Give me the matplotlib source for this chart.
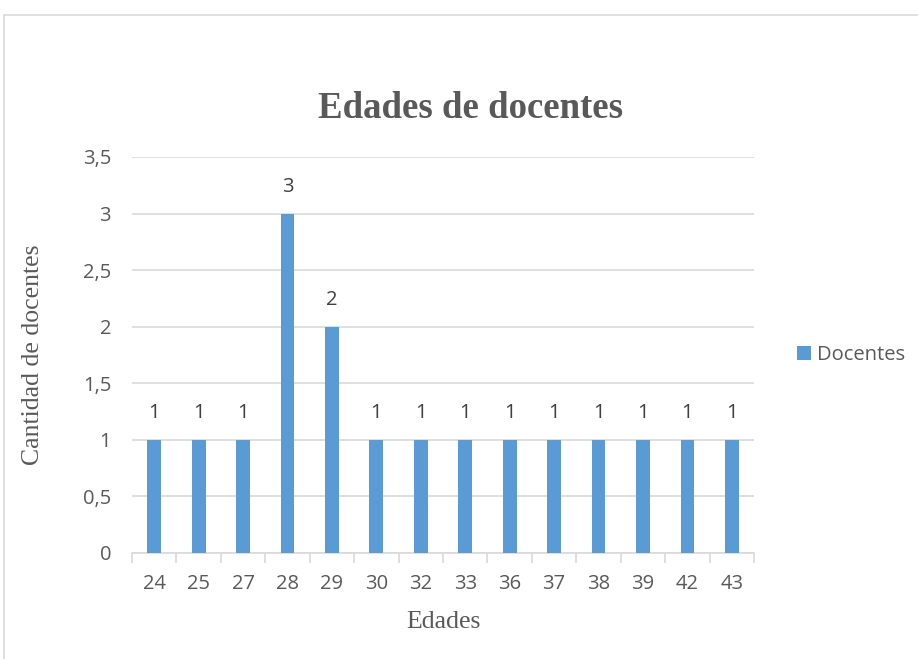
import numpy as np
import matplotlib.pyplot as plt
from matplotlib.patches import Rectangle

edades = ['24', '25', '27', '28', '29', '30', '32', '33', '36', '37', '38', '39', '42', '43']
docentes = [1, 1, 1, 3, 2, 1, 1, 1, 1, 1, 1, 1, 1, 1]

azul = '#5B9BD5'
gris = '#595959'

fig = plt.figure(figsize=(9.18, 6.59), dpi=100)
fig.patches.append(Rectangle((4 / 918, -0.1), 1.1, 1 - 15 / 659 + 0.1,
                             transform=fig.transFigure, fill=False,
                             edgecolor='#D9D9D9', linewidth=1.2))

ax = fig.add_axes([0.1438, 0.1609, 0.6776, 0.6009])
x = np.arange(len(edades))
ax.bar(x, docentes, width=0.31, color=azul, zorder=3, label='Docentes')

for xi, v in zip(x, docentes):
    ax.annotate(str(v), (xi, v), xytext=(0, 19), textcoords='offset points',
                ha='center', va='center', fontsize=14.5, color='#404040',
                family='Open Sans')

ax.set_xlim(-0.5, len(edades) - 0.5)
ax.set_ylim(0, 3.5)
ax.set_yticks(np.arange(0, 3.51, 0.5))
ax.set_yticklabels(['0', '0,5', '1', '1,5', '2', '2,5', '3', '3,5'])
ax.yaxis.grid(True, color='#D9D9D9', linewidth=1.2, zorder=0)

ax.set_xticks(x)
ax.set_xticklabels(edades)
ax.set_xticks(np.arange(-0.5, len(edades)), minor=True)
ax.tick_params(axis='x', which='major', length=0, pad=15)
ax.tick_params(axis='x', which='minor', length=7, color='#D9D9D9', width=1.2)
ax.tick_params(axis='y', length=0, pad=15)
for lab in ax.get_xticklabels() + ax.get_yticklabels():
    lab.set_family('Open Sans')
    lab.set_fontsize(14.5)
    lab.set_color(gris)

for s in ['top', 'right', 'left']:
    ax.spines[s].set_visible(False)
ax.spines['bottom'].set_color('#D9D9D9')
ax.spines['bottom'].set_linewidth(1.2)

ax.set_xlabel('Edades', family='Liberation Serif', fontsize=18.5, color=gris)
ax.set_ylabel('Cantidad de docentes', family='Liberation Serif', fontsize=18.5,
              color=gris)
ax.xaxis.set_label_coords(0.5, -0.174)
ax.xaxis.label.set_va('center')
ax.yaxis.set_label_coords(-0.159, 0.5)
ax.yaxis.label.set_va('center')

fig.text(471 / 918, 1 - 108 / 659, 'Edades de docentes', ha='center', va='center',
         family='Liberation Serif', fontweight='bold', fontsize=26.5, color=gris)

leg = ax.legend(loc='center left', bbox_to_anchor=(1.04, 0.5), frameon=False,
                handlelength=0.7, handleheight=0.7, handletextpad=0.3,
                prop={'family': 'Open Sans', 'size': 14.5})
for t in leg.get_texts():
    t.set_color(gris)

fig.savefig('out.png', dpi=100)
